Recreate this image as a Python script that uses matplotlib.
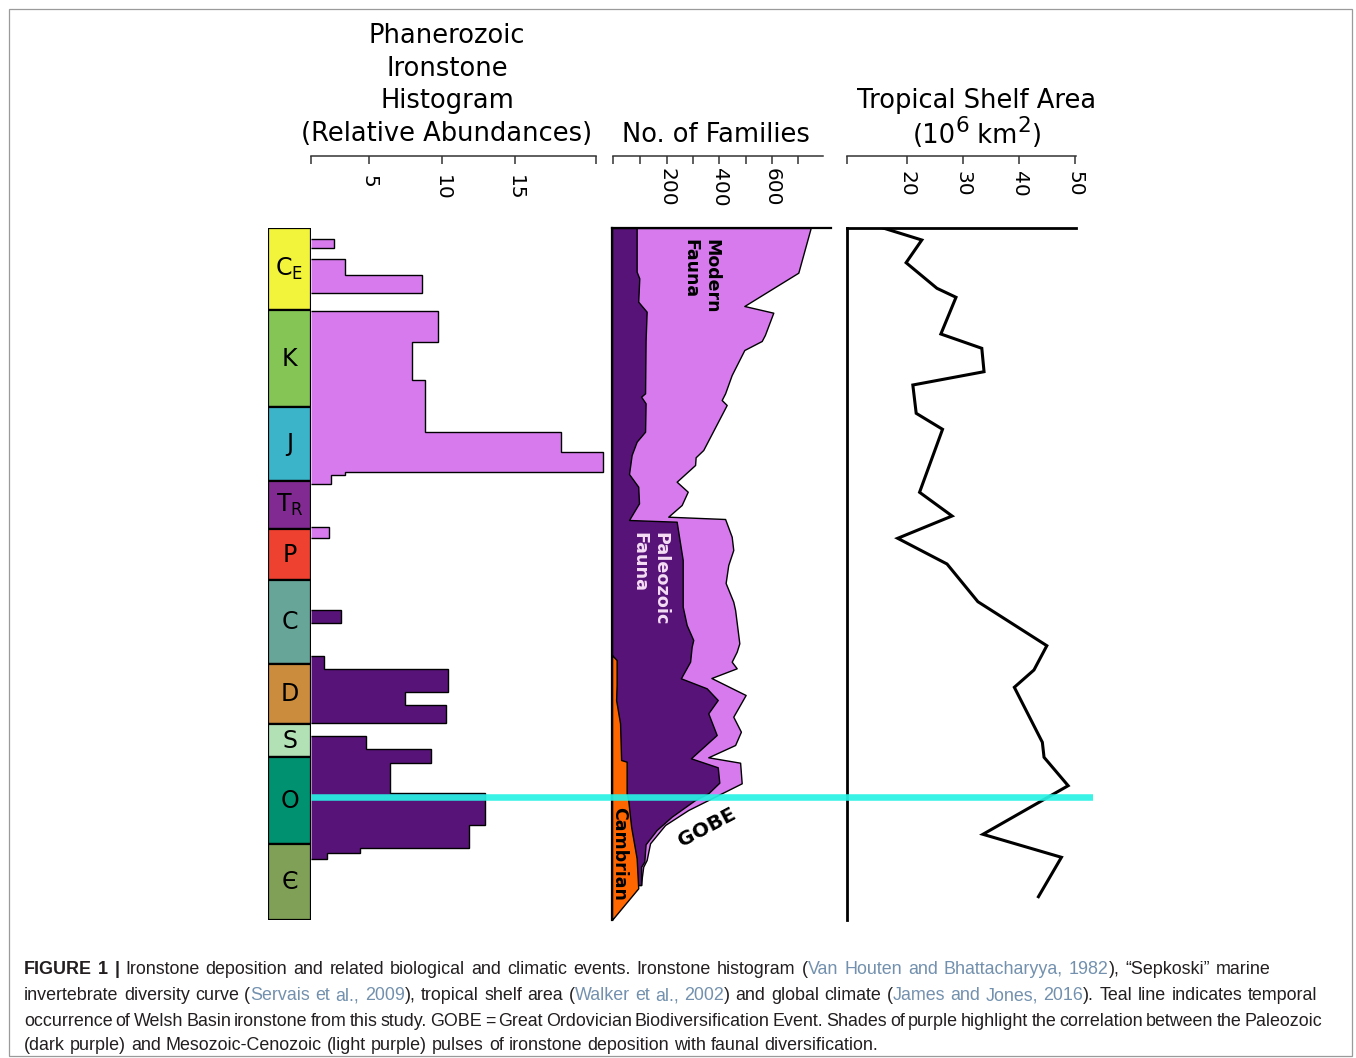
import matplotlib
matplotlib.use("Agg")
import matplotlib.pyplot as plt
from matplotlib.patches import Rectangle

W, H = 1356, 1058

# ---- geologic column (time in chart units: 0 = top/present, 692 = base Cambrian) ----
period_labels = [r"C$_{\mathregular{E}}$", "K", "J", r"T$_{\mathregular{R}}$", "P",
                 "C", "D", "S", "O", "Є"]
period_top = [0, 82.3, 179.3, 252.7, 301, 352, 436.3, 496.3, 528.7, 616.3]
period_base = [82.3, 179.3, 252.7, 301, 352, 436.3, 496.3, 528.7, 616.3, 692]
period_colors = ["#F2F43C", "#84C556", "#3BB3C8", "#812B92", "#EF4130",
                 "#67A599", "#CB8C3D", "#B3E1B6", "#009270", "#7FA056"]

# ---- ironstone histogram (relative abundance) ----
hist_top = [10.7, 31.3, 47, 82.7, 114.3, 152, 204.3, 223.7, 243.7, 247, 298.7,
            382, 428, 441, 464.3, 477.3, 508, 520.7, 535.3, 565.3, 597, 619.7, 625.3]
hist_base = [20.3, 47, 65.3, 114.3, 152, 204.3, 223.7, 243.7, 247, 256, 310.3,
             394.7, 441, 464.3, 477.3, 495.3, 520.7, 535.3, 565.3, 597, 619.7, 625.3, 631]
hist_value = [2.6, 3.31, 8.63, 9.71, 7.92, 8.79, 18.15, 21.0, 3.36, 2.38, 2.24,
              3.03, 1.87, 10.36, 7.47, 10.27, 4.77, 9.23, 6.44, 12.95, 11.8, 4.34, 2.1]
hist_era = ["meso"] * 11 + ["paleo"] * 12

# ---- Sepkoski diversity (cumulative number of families) ----
total_t = [0, 44.7, 78, 84.7, 107, 113, 122, 147, 165.3, 172, 177, 222, 229.3, 237,
           253.7, 263.7, 277, 288.7, 291, 308.7, 322, 337, 355, 373.7, 382, 415.3,
           423.7, 433.7, 440.3, 450, 467, 488.7, 503.7, 517, 529.3, 534.7, 555.3,
           567, 572, 582, 597, 615.3, 632, 638.7, 648.7, 657]
total_v = [747, 700, 495, 605, 573, 561, 495, 447, 422, 409, 428, 339, 310, 308,
           238, 280, 257, 206, 422, 447, 453, 434, 424, 453, 460, 476,
           466, 447, 466, 370, 500, 453, 482, 460, 358, 479, 485,
           396, 358, 282, 194, 137, 124, 111, 106, 103]
paleo_t = [0, 43.7, 50.3, 73.7, 83.7, 112, 165.3, 168.7, 175.3, 203.7, 213.7, 227,
           246, 258.7, 275.3, 292, 293.7, 332, 378.7, 397, 412, 418.7, 433.7, 450.3,
           460.3, 472, 485.3, 507, 530.3, 539.3, 554.7, 565.3, 572, 588.7, 602,
           616.3, 633.7, 638.7, 657]
paleo_v = [86, 86, 96, 92, 124, 120, 118, 103, 120, 118, 86, 67,
           57, 92, 95, 57, 238, 261, 261, 276, 301, 295, 289, 254,
           352, 394, 358, 390, 292, 394, 400, 358, 308, 219, 162,
           120, 115, 103, 103]
camb_t = [427, 432, 457, 472, 495.3, 532, 533.7, 565.3, 572, 598.7, 630.3, 660.3, 692]
camb_v = [-8, 10, 10, 8, 23, 27, 48, 48, 54, 65, 86, 92, -8]

# ---- tropical shelf area (10^6 km^2) ----
shelf_t = [0, 12, 34.7, 60.3, 69.3, 106, 120.3, 143.7, 157, 185.3, 201.3, 264.3,
           288, 310.3, 336, 373.7, 417.7, 442, 459.3, 514.3, 529.3, 557.7, 606.3,
           629.3, 668.7]
shelf_v = [15.8, 22.7, 19.9, 25.4, 28.8, 26.1, 33.4, 33.8, 21.1, 21.7, 26.4, 22.3,
           28.1, 18.4, 27.2, 32.7, 45.0, 42.7, 39.2, 44.2, 44.5, 48.8, 33.6,
           47.6, 43.5]

welsh_ironstone_t = 568.5

LIGHT = "#D67AEE"
DARK = "#581378"
ORANGE = "#FF6600"
TEAL = "#27F2E4"


def px_rect(x0, y0, w, h):
    return [x0 / W, 1 - (y0 + h) / H, w / W, h / H]


def fxy(x, y):
    return x / W, 1 - y / H


fig = plt.figure(figsize=(W / 100, H / 100), dpi=100)
plt.rcParams["font.family"] = "DejaVu Sans"
renderer = fig.canvas.get_renderer()

TOP, SPAN = 228, 692

# frame
fig.patches.append(Rectangle((9 / W, 2 / H), 1343 / W, 1047 / H, transform=fig.transFigure,
                             fill=False, edgecolor="#9a9a9a", linewidth=0.9))

# geologic column
ax_c = fig.add_axes(px_rect(268, TOP, 43, SPAN))
for lab, top, base, col in zip(period_labels, period_top, period_base, period_colors):
    ax_c.barh((top + base) / 2, 1, height=base - top, left=0, color=col,
              edgecolor="black", linewidth=1.6)
    ax_c.text(0.5, (top + base) / 2, lab, ha="center", va="center", fontsize=17)
ax_c.set_xlim(0, 1)
ax_c.set_ylim(SPAN, 0)
ax_c.axis("off")

# histogram
HIST_L, HIST_PX = 1.0, 14.6
ax_h = fig.add_axes(px_rect(311, TOP, 296, SPAN))
ax_h.set_xlim(HIST_L, HIST_L + 296 / HIST_PX)
ax_h.set_ylim(SPAN, 0)
ax_h.axis("off")
for era, col in (("meso", LIGHT), ("paleo", DARK)):
    groups = []
    for top, base, val, e in zip(hist_top, hist_base, hist_value, hist_era):
        if e != era:
            continue
        if groups and abs(groups[-1][0][-1] - top) < 0.5:
            groups[-1][0].append(base)
            groups[-1][1].append(val)
        else:
            groups.append(([top, base], [val]))
    for edges, vals in groups:
        ax_h.stairs(vals, edges, baseline=HIST_L, orientation="horizontal", fill=True,
                    facecolor=col, edgecolor="black", linewidth=1.0)

# families
FAM_L, FAM_R = -7.6, 824.2
ax_f = fig.add_axes(px_rect(612, TOP, 219, SPAN))
ax_f.fill_betweenx(total_t, FAM_L, total_v, facecolor=LIGHT, edgecolor="black", linewidth=1.0)
ax_f.fill_betweenx(paleo_t, FAM_L, paleo_v, facecolor=DARK, edgecolor="black", linewidth=1.0)
ax_f.fill_betweenx(camb_t, FAM_L, camb_v, facecolor=ORANGE, edgecolor="black", linewidth=1.0)
ax_f.set_xlim(FAM_L, FAM_R)
ax_f.set_ylim(SPAN, 0)
for s in ("right", "bottom"):
    ax_f.spines[s].set_visible(False)
for s in ("left", "top"):
    ax_f.spines[s].set_linewidth(1.6)
ax_f.set_xticks([])
ax_f.set_yticks([])

# shelf area
SH_L, SH_R = 9.36, 50.2
ax_s = fig.add_axes(px_rect(847, TOP, 229, SPAN))
ax_s.plot(shelf_v, shelf_t, color="black", linewidth=2.2, solid_joinstyle="miter")
ax_s.set_xlim(SH_L, SH_R)
ax_s.set_ylim(SPAN, 0)
for s in ("right", "bottom"):
    ax_s.spines[s].set_visible(False)
for s in ("left", "top"):
    ax_s.spines[s].set_linewidth(2.0)
ax_s.set_xticks([])
ax_s.set_yticks([])


# scale bars
def scale_bar(x0, w, lim, bounds, major, minor, pad):
    ax = fig.add_axes(px_rect(x0, 155, w, 1))
    ax.set_xlim(*lim)
    ax.set_ylim(0, 1)
    for s in ("top", "left", "right"):
        ax.spines[s].set_visible(False)
    ax.spines["bottom"].set_bounds(*bounds)
    ax.spines["bottom"].set_linewidth(1.1)
    ax.spines["bottom"].set_color("#333333")
    ax.set_yticks([])
    ax.set_xticks(major)
    ax.set_xticklabels([str(m) for m in major], rotation=270, fontsize=14.5)
    ax.set_xticks(minor, minor=True)
    ax.tick_params(axis="x", which="both", length=6, width=1.1, color="#333333", pad=pad)
    ax.patch.set_visible(False)


scale_bar(311, 296, (HIST_L, HIST_L + 296 / HIST_PX), (1.0, 20.5), [5, 10, 15], [1.0, 20.5], 8)
scale_bar(612, 219, (FAM_L, FAM_R), (-4.9, 792.6), [200, 400, 600], [-4.9, 100, 300, 500, 700], 3)
scale_bar(847, 229, (SH_L, SH_R), (9.2, 50.2), [20, 30, 40, 50], [9.2], 5)

# Welsh Basin ironstone line
ax_t = fig.add_axes(px_rect(311, TOP, 782, SPAN))
ax_t.set_ylim(SPAN, 0)
ax_t.axhline(welsh_ironstone_t, color=TEAL, linewidth=4.7, alpha=0.92)
ax_t.axis("off")

# titles
fig.text(*fxy(447, 85), "Phanerozoic\nIronstone\nHistogram\n(Relative Abundances)",
         ha="center", va="center", fontsize=18.5, linespacing=1.34)
fig.text(*fxy(716, 135), "No. of Families", ha="center", va="center", fontsize=18.5)
fig.text(*fxy(977, 108.5), "Tropical Shelf Area", ha="center", va="baseline", fontsize=18.5)

# "(10^6 km^2)" built from pieces so the superscripts stay large
unit_pieces = [("(10", 18.5, 0), ("6", 15.5, -11), (" km", 18.5, 0), ("2", 15.5, -11), (")", 18.5, 0)]
unit_texts = []
for s, size, dy in unit_pieces:
    t = fig.text(0, 0, s, fontsize=size, va="baseline", ha="left")
    unit_texts.append((t, t.get_window_extent(renderer).width, dy))
x = 977 - sum(w for _, w, _ in unit_texts) / 2
for t, w, dy in unit_texts:
    t.set_position(fxy(x, 143 + dy))
    x += w

# fauna labels
fig.text(*fxy(701, 276), "Modern\nFauna", rotation=270, ha="center", va="center",
         fontsize=12.5, fontweight="bold", multialignment="left")
fig.text(*fxy(649.5, 579), "Paleozoic\nFauna", rotation=270, ha="center", va="center",
         fontsize=12.7, fontweight="bold", multialignment="left", color="#F5DDF5")
fig.text(*fxy(619, 854), "Cambrian", rotation=270, ha="center", va="center",
         fontsize=12.5, fontweight="bold")
fig.text(*fxy(707.5, 827.5), "GOBE", rotation=28, ha="center", va="center",
         fontsize=14.5, fontweight="bold")

# caption
CAP_FONT = "Liberation Sans"
CAP_SIZE = 12.9
INK = "#231F20"
CITE = "#7391AE"
caption_lines = [
    ([("FIGURE 1 |", "bold", INK),
      (" Ironstone deposition and related biological and climatic events. Ironstone histogram (", "normal", INK),
      ("Van Houten and Bhattacharyya, 1982", "normal", CITE),
      ("), \u201cSepkoski\u201d marine", "normal", INK)], 974.5, 1271),
    ([("invertebrate diversity curve (", "normal", INK),
      ("Servais et al., 2009", "normal", CITE),
      ("), tropical shelf area (", "normal", INK),
      ("Walker et al., 2002", "normal", CITE),
      (") and global climate (", "normal", INK),
      ("James and Jones, 2016", "normal", CITE),
      ("). Teal line indicates temporal", "normal", INK)], 1000.5, 1317),
    ([("occurrence of Welsh Basin ironstone from this study. GOBE = Great Ordovician "
       "Biodiversification Event. Shades of purple highlight the correlation between the Paleozoic",
       "normal", INK)], 1025.5, 1322),
    ([("(dark purple) and Mesozoic-Cenozoic (light purple) pulses of ironstone deposition "
       "with faunal diversification.", "normal", INK)], 1050.5, None),
]

probe = fig.text(0, 0, "a a", fontsize=CAP_SIZE, family=CAP_FONT)
probe2 = fig.text(0, 0, "aa", fontsize=CAP_SIZE, family=CAP_FONT)
space_w = probe.get_window_extent(renderer).width - probe2.get_window_extent(renderer).width
probe.remove()
probe2.remove()

for segments, base_y, right in caption_lines:
    words = [[]]
    for text, weight, color in segments:
        parts = text.split(" ")
        for i, p in enumerate(parts):
            if i > 0:
                words.append([])
            if p:
                words[-1].append((p, weight, color))
    words = [w for w in words if w]
    placed = []
    for word in words:
        items = []
        for piece, weight, color in word:
            t = fig.text(0, 0, piece, fontsize=CAP_SIZE, family=CAP_FONT, fontweight=weight,
                         color=color, va="baseline", ha="left")
            items.append((t, t.get_window_extent(renderer).width))
        placed.append(items)
    word_w = [sum(w for _, w in items) for items in placed]
    gap = space_w
    if right is not None and len(placed) > 1:
        gap = (right - 24 - sum(word_w)) / (len(placed) - 1)
    x = 24
    for items, ww in zip(placed, word_w):
        for t, w in items:
            t.set_position(fxy(x, base_y))
            x += w
        x += gap

fig.savefig("out.png", dpi=100)
